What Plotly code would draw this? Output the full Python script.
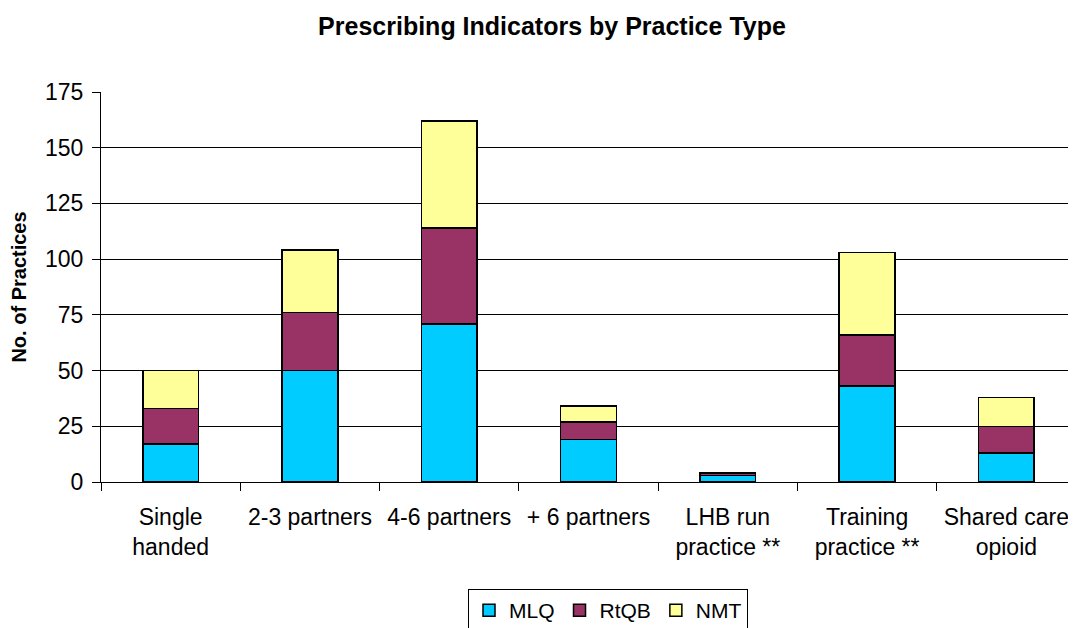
import plotly.graph_objects as go

categories = ["Single<br>handed", "2-3 partners", "4-6 partners", "+ 6 partners",
              "LHB run<br>practice **", "Training<br>practice **", "Shared care<br>opioid"]
mlq = [17, 50, 71, 19, 3, 43, 13]
rtqb = [16, 26, 43, 8, 1, 23, 12]
nmt = [17, 28, 48, 7, 0, 37, 13]
y_ticks = [0, 25, 50, 75, 100, 125, 150, 175]

series = [("MLQ", mlq, "#00CCFF"), ("RtQB", rtqb, "#993366"), ("NMT", nmt, "#FFFF99")]

fig = go.Figure()
for name, vals, col in series:
    fig.add_trace(go.Bar(name=name, x=categories, y=vals, marker_color=col,
                         marker_line_color="black", marker_line_width=1.5))

font = "Liberation Sans, Arial, sans-serif"
W, H = 1068, 620  # page body has an 8px margin
fig.update_layout(
    barmode="stack", bargap=0.6,
    width=W, height=H,
    paper_bgcolor="white", plot_bgcolor="white",
    margin=dict(l=93, r=0, t=84, b=146),
    font=dict(family=font, color="black", size=23),
    title=dict(text="<b>Prescribing Indicators by Practice Type</b>", x=544 / W, xref="container",
               y=1 - 18 / H, yref="container", xanchor="center", yanchor="middle",
               font=dict(size=25, family=font)),
    showlegend=True,
    legend=dict(orientation="h", xref="container", yref="container", x=600 / W, y=1 - 581 / H,
                xanchor="center", yanchor="top", bordercolor="black", borderwidth=1,
                font=dict(size=21, family=font), traceorder="normal", itemwidth=30),
)
fig.update_xaxes(type="category", tickson="boundaries", ticks="outside", ticklen=8,
                 tickcolor="black", showline=True, linecolor="black", linewidth=1,
                 showgrid=False, tickfont=dict(size=23), ticklabelstandoff=14)
fig.update_yaxes(range=[0, 175], tickvals=y_ticks, ticks="outside", ticklen=8, tickcolor="black",
                 showline=True, linecolor="black", linewidth=1, showgrid=True, gridcolor="black",
                 gridwidth=1, zeroline=False, tickfont=dict(size=23), ticklabelstandoff=4,
                 title=dict(text="<b>No. of Practices</b>", font=dict(size=20), standoff=14))
fig.write_html("out.html")
